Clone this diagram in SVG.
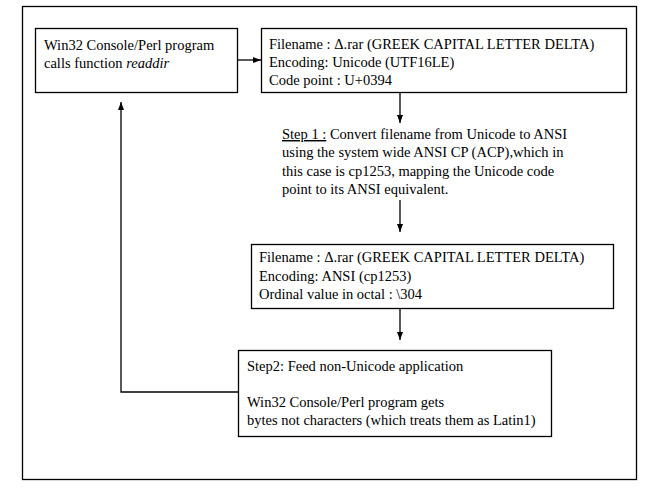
<svg xmlns="http://www.w3.org/2000/svg" width="652" height="488" viewBox="0 0 652 488">
<style>
.box{fill:#fff;stroke:#000;stroke-width:1.3}
.frame{fill:none;stroke:#000;stroke-width:1.3}
.t{font-family:'Liberation Serif','DejaVu Serif',serif;font-size:14.5px;fill:#000}
.c{fill:none;stroke:#000;stroke-width:1.3}
</style>
<defs>
<marker id="ah" viewBox="0 0 8 8" refX="8" refY="4" markerWidth="8" markerHeight="8" markerUnits="userSpaceOnUse" orient="auto">
<path d="M0,1 L8,4 L0,7 Z" fill="#000"/>
</marker>
</defs>
<rect class="frame" x="22.5" y="6.5" width="614" height="473"/>
<g id="connectors">
<line class="c" x1="238" y1="60" x2="261" y2="60" marker-end="url(#ah)"/>
<line class="c" x1="400" y1="92" x2="400" y2="123" marker-end="url(#ah)"/>
<line class="c" x1="400" y1="200" x2="400" y2="232" marker-end="url(#ah)"/>
<line class="c" x1="400" y1="309" x2="400" y2="340" marker-end="url(#ah)"/>
<polyline class="c" points="238,392 121,392 121,102" marker-end="url(#ah)"/>
</g>
<g class="t">
<g id="node1">
<rect class="box" x="35.5" y="28.5" width="202" height="64"/>
<text x="44" y="50">Win32 Console/Perl program</text>
<text x="44" y="68">calls function <tspan font-style="italic">readdir</tspan></text>
</g>
<g id="node2">
<rect class="box" x="261.5" y="28.5" width="365" height="64"/>
<text x="269" y="49">Filename : Δ.rar (GREEK CAPITAL LETTER DELTA)</text>
<text x="269" y="67">Encoding: Unicode (UTF16LE)</text>
<text x="269" y="85">Code point : U+0394</text>
</g>
<g id="step1">
<text x="282" y="139"><tspan text-decoration="underline">Step 1 :</tspan> Convert filename from Unicode to ANSI</text>
<text x="282" y="157">using the system wide ANSI CP (ACP),which in</text>
<text x="282" y="176">this case is cp1253, mapping the Unicode code</text>
<text x="282" y="194">point to its ANSI equivalent.</text>
</g>
<g id="node3">
<rect class="box" x="251.5" y="244.5" width="362" height="64"/>
<text x="259" y="262">Filename : Δ.rar (GREEK CAPITAL LETTER DELTA)</text>
<text x="259" y="281">Encoding: ANSI (cp1253)</text>
<text x="259" y="299">Ordinal value in octal : \304</text>
</g>
<g id="node4">
<rect class="box" x="238.5" y="350.5" width="313" height="86"/>
<text x="247" y="371">Step2: Feed non-Unicode application</text>
<text x="247" y="407">Win32 Console/Perl program gets</text>
<text x="247" y="425">bytes not characters (which treats them as Latin1)</text>
</g>
</g>
</svg>
